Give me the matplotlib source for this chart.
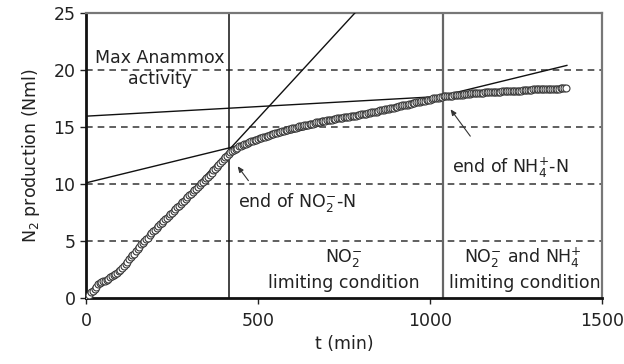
import numpy as np
import matplotlib
matplotlib.use("Agg")
import matplotlib.pyplot as plt

# ---- data ----
time_min = np.arange(0, 1400, 5)
n2_nml = [
    0.0, 0.1, 0.3, 0.5, 0.6, 0.8, 1.0, 1.2, 1.3, 1.4, 1.5, 1.5, 1.6, 1.7, 1.8, 1.9, 2.0, 2.1, 2.2, 2.35,
    2.5, 2.65, 2.8, 3.0, 3.2, 3.4, 3.6, 3.75, 3.9, 4.1, 4.3, 4.5, 4.7, 4.85, 5.0, 5.15, 5.3, 5.5, 5.7, 5.85,
    6.0, 6.15, 6.3, 6.45, 6.6, 6.75, 6.9, 7.05, 7.2, 7.35, 7.5, 7.65, 7.8, 7.95, 8.1, 8.25, 8.4, 8.55, 8.7, 8.85,
    9.0, 9.15, 9.3, 9.45, 9.6, 9.75, 9.9, 10.05, 10.2, 10.35, 10.5, 10.65, 10.8, 11.0, 11.2, 11.35, 11.5, 11.65, 11.8, 12.0,
    12.2, 12.35, 12.5, 12.65, 12.8, 12.9, 13.0, 13.1, 13.2, 13.3, 13.35, 13.45, 13.5, 13.55, 13.6, 13.7, 13.75, 13.8, 13.85, 13.9,
    13.95, 14.0, 14.05, 14.1, 14.15, 14.2, 14.25, 14.3, 14.35, 14.4, 14.45, 14.5, 14.55, 14.6, 14.65, 14.65, 14.7, 14.75, 14.8, 14.85,
    14.9, 14.9, 14.95, 15.0, 15.05, 15.1, 15.1, 15.15, 15.2, 15.2, 15.25, 15.3, 15.3, 15.35, 15.4, 15.4, 15.45, 15.5, 15.5, 15.55,
    15.6, 15.6, 15.65, 15.65, 15.7, 15.7, 15.75, 15.75, 15.8, 15.8, 15.85, 15.85, 15.9, 15.9, 15.95, 15.95, 16.0, 16.0, 16.05, 16.05,
    16.1, 16.1, 16.15, 16.15, 16.2, 16.25, 16.3, 16.3, 16.35, 16.35, 16.4, 16.45, 16.5, 16.5, 16.55, 16.55, 16.6, 16.65, 16.7, 16.7,
    16.75, 16.75, 16.8, 16.85, 16.9, 16.9, 16.95, 16.95, 17.0, 17.05, 17.1, 17.1, 17.15, 17.15, 17.2, 17.25, 17.3, 17.3, 17.35, 17.35,
    17.4, 17.45, 17.5, 17.5, 17.55, 17.55, 17.6, 17.65, 17.7, 17.7, 17.7, 17.7, 17.75, 17.75, 17.8, 17.8, 17.8, 17.8, 17.85, 17.85,
    17.9, 17.9, 17.9, 17.9, 17.95, 17.95, 17.95, 17.95, 18.0, 18.0, 18.0, 18.0, 18.05, 18.05, 18.05, 18.05, 18.1, 18.1, 18.1, 18.1,
    18.1, 18.1, 18.15, 18.15, 18.15, 18.15, 18.15, 18.15, 18.2, 18.2, 18.2, 18.2, 18.2, 18.2, 18.25, 18.25, 18.25, 18.25, 18.25, 18.25,
    18.3, 18.3, 18.3, 18.3, 18.3, 18.3, 18.3, 18.3, 18.35, 18.35, 18.35, 18.35, 18.35, 18.35, 18.35, 18.35, 18.4, 18.4, 18.4, 18.4,
]
# fitted lines: (intercept, slope, t_start, t_end)
fit_max_activity = (-0.64, 0.0328, 150, 800)
fit_mid = (10.1, 0.00737, 0, 1398)
fit_late = (15.95, 0.00168, 0, 1050)
end_no2_t = 416
end_nh4_t = 1038

x_ticks = [0, 500, 1000, 1500]
y_ticks = [0, 5, 10, 15, 20, 25]

FS = 12.5
TC = "#222222"

fig = plt.figure(figsize=(6.24, 3.64), dpi=100)
ax = fig.add_axes([0.1378, 0.1813, 0.9647 - 0.1378, 0.9643 - 0.1813])

ax.set_xlim(0, 1500)
ax.set_ylim(0, 25)

# dashed gridlines
for yv in y_ticks[1:-1]:
    ax.axhline(yv, color="#444444", lw=1.2, ls=(0, (4, 3)), zorder=1)

# vertical lines
ax.axvline(end_no2_t, color="#111111", lw=1.1, zorder=2)
ax.axvline(end_nh4_t, color="#666666", lw=1.6, zorder=2)

# fitted lines
for b, m, t0, t1 in (fit_max_activity, fit_mid, fit_late):
    tt = np.array([t0, t1])
    ax.plot(tt, b + m * tt, color="#111111", lw=1.0, zorder=3)

# data
ax.plot(time_min, n2_nml, ls="none", marker="o", ms=5.0, mfc="white",
        mec="#3a3a3a", mew=0.8, zorder=4)

# spines
for s in ("left", "bottom"):
    ax.spines[s].set_linewidth(2.0)
    ax.spines[s].set_color("#111111")
for s in ("top", "right"):
    ax.spines[s].set_linewidth(1.6)
    ax.spines[s].set_color("#777777")

ax.set_xticks(x_ticks)
ax.set_yticks(y_ticks)
ax.tick_params(direction="out", length=4, width=1.0, labelsize=FS,
               colors=TC)
ax.tick_params(axis="x", pad=6)

ax.set_xlabel("t (min)", fontsize=FS, color=TC, labelpad=4)
ax.set_ylabel(r"N$_2$ production (Nml)", fontsize=FS, color=TC, labelpad=8)

# annotations
ax.text(215, 20.1, "Max Anammox\nactivity", ha="center", va="center",
        fontsize=FS, color=TC, linespacing=1.2, zorder=5)
ax.text(442, 8.4, r"end of NO$_2^{-}$-N", ha="left", va="center",
        fontsize=FS, color=TC)
ax.text(1064, 11.4, r"end of NH$_4^{+}$-N", ha="left", va="center",
        fontsize=FS, color=TC)
ax.text(750, 3.5, r"NO$_2^{-}$", ha="center", va="center",
        fontsize=FS, color=TC)
ax.text(750, 1.3, "limiting condition", ha="center", va="center",
        fontsize=FS, color=TC)
ax.text(1270, 3.5, r"NO$_2^{-}$ and NH$_4^{+}$", ha="center", va="center",
        fontsize=FS, color=TC, clip_on=False)
ax.text(1276, 1.3, "limiting condition", ha="center", va="center",
        fontsize=FS, color=TC, clip_on=False)

arrow_kw = dict(arrowstyle="-|>,head_length=0.35,head_width=0.15",
                color="#333333", lw=0.8)
ax.annotate("", xy=(436, 11.75), xytext=(477, 10.1), arrowprops=arrow_kw)
ax.annotate("", xy=(1055, 16.75), xytext=(1122, 14.0), arrowprops=arrow_kw)

fig.savefig("out.png", dpi=100)
